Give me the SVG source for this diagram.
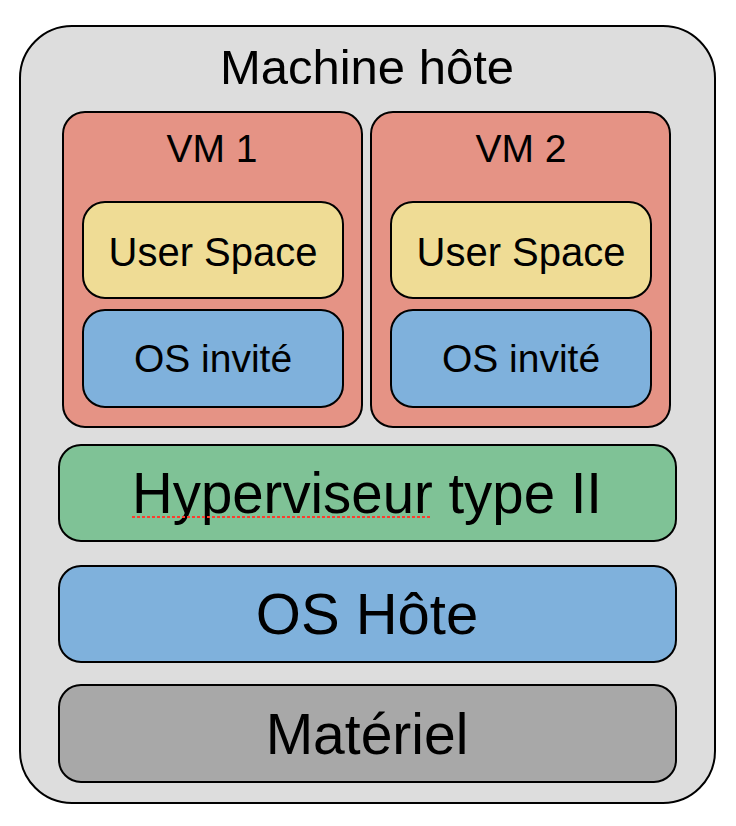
<svg xmlns="http://www.w3.org/2000/svg" width="736" height="826" viewBox="0 0 736 826">
<style>
.box{stroke:#000;stroke-width:2}
.t{font-family:"Liberation Sans",Arial,Helvetica,sans-serif;fill:#000;text-anchor:middle}
</style>
<rect width="736" height="826" fill="#ffffff"/>
<g id="host">
<rect class="box" x="20" y="26" width="695" height="777" rx="52" fill="#dddddd"/>
<text class="t" x="367" y="84" font-size="49">Machine hôte</text>
</g>
<g id="vm1">
<rect class="box" x="63" y="112" width="299" height="315" rx="22" fill="#e59385"/>
<text class="t" x="212" y="162" font-size="39">VM 1</text>
</g>
<g id="vm1-user">
<rect class="box" x="83" y="202" width="260" height="96" rx="22" fill="#efdc95"/>
<text class="t" x="213" y="266" font-size="40">User Space</text>
</g>
<g id="vm1-os">
<rect class="box" x="83" y="310" width="260" height="97" rx="22" fill="#7fb1dc"/>
<text class="t" x="213" y="372" font-size="39">OS invité</text>
</g>
<g id="vm2">
<rect class="box" x="371" y="112" width="299" height="315" rx="22" fill="#e59385"/>
<text class="t" x="521" y="162" font-size="39">VM 2</text>
</g>
<g id="vm2-user">
<rect class="box" x="391" y="202" width="260" height="96" rx="22" fill="#efdc95"/>
<text class="t" x="521" y="266" font-size="40">User Space</text>
</g>
<g id="vm2-os">
<rect class="box" x="391" y="310" width="260" height="97" rx="22" fill="#7fb1dc"/>
<text class="t" x="521" y="372" font-size="39">OS invité</text>
</g>
<g id="hypervisor">
<rect class="box" x="59" y="445" width="617" height="96" rx="22" fill="#7fc296"/>
<text class="t" x="367" y="513" font-size="58" textLength="470" lengthAdjust="spacingAndGlyphs">Hyperviseur type II</text>
<line x1="132" y1="517" x2="432" y2="517" stroke="#ff3b30" stroke-width="2" stroke-dasharray="3,2"/>
</g>
<g id="host-os">
<rect class="box" x="59" y="566" width="617" height="96" rx="22" fill="#7fb1dc"/>
<text class="t" x="367" y="634" font-size="58">OS Hôte</text>
</g>
<g id="hardware">
<rect class="box" x="59" y="685" width="617" height="97" rx="22" fill="#a8a8a8"/>
<text class="t" x="367" y="754" font-size="57">Matériel</text>
</g>
<g id="connectors"/>
</svg>
